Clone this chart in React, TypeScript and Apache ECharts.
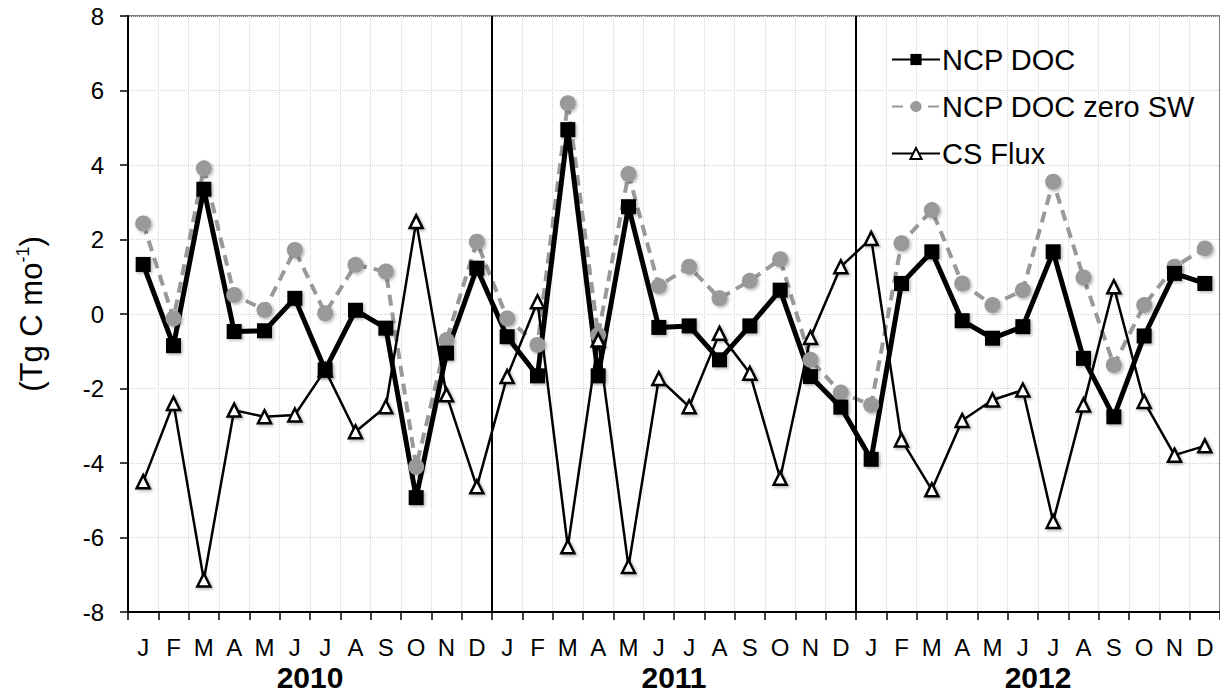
import React, { useEffect, useRef } from "react";
import * as echarts from "echarts";

const monthLetters = ["J", "F", "M", "A", "M", "J", "J", "A", "S", "O", "N", "D"];
const years = ["2010", "2011", "2012"];
const categories = years.flatMap((y) => monthLetters.map((m, i) => `${y}-${i}-${m}`));

const ncpDoc = [
  1.33, -0.85, 3.35, -0.47, -0.45, 0.42, -1.5, 0.1, -0.38, -4.93, -1.05, 1.23,
  -0.61, -1.66, 4.95, -1.66, 2.88, -0.36, -0.32, -1.23, -0.32, 0.64, -1.68, -2.5,
  -3.9, 0.82, 1.67, -0.18, -0.65, -0.34, 1.67, -1.19, -2.76, -0.59, 1.09, 0.82,
];
const ncpDocZeroSW = [
  2.43, -0.12, 3.91, 0.51, 0.11, 1.72, 0.02, 1.32, 1.14, -4.1, -0.7, 1.94,
  -0.12, -0.83, 5.66, -0.56, 3.76, 0.75, 1.27, 0.42, 0.89, 1.47, -1.23, -2.11,
  -2.44, 1.9, 2.79, 0.82, 0.24, 0.64, 3.55, 0.98, -1.37, 0.24, 1.27, 1.76,
];
const csFlux = [
  -4.5, -2.4, -7.14, -2.58, -2.76, -2.71, -1.5, -3.16, -2.49, 2.48, -2.17, -4.64,
  -1.68, 0.33, -6.25, -0.7, -6.78, -1.73, -2.49, -0.52, -1.59, -4.41, -0.63, 1.27,
  2.03, -3.38, -4.72, -2.86, -2.31, -2.04, -5.57, -2.44, 0.73, -2.35, -3.79, -3.54,
];
const yearBoundaries = [12, 24];
const yTicks = { min: -8, max: 8, interval: 2 };

const FONT = "'Liberation Sans', Arial, sans-serif";

export default function App() {
  const ref = useRef<HTMLDivElement>(null);
  useEffect(() => {
    document.body.style.margin = "0";
    const chart = echarts.init(ref.current!, null, { renderer: "svg" });
    const shadow = {
      shadowColor: "rgba(0,0,0,0.3)",
      shadowBlur: 3,
      shadowOffsetX: 1.5,
      shadowOffsetY: 1.5,
    };
    chart.setOption({
      animation: false,
      backgroundColor: "#fff",
      textStyle: { fontFamily: FONT },
      grid: {
        left: 128,
        top: 16,
        width: 1094,
        height: 596,
        show: true,
        borderColor: "#555",
        borderWidth: 1.5,
        backgroundColor: "transparent",
      },
      legend: {
        data: ["NCP DOC", "NCP DOC zero SW", "CS Flux"],
        orient: "vertical",
        left: 886,
        top: 40,
        itemWidth: 48,
        itemHeight: 14,
        itemGap: 18,
        textStyle: { fontSize: 29, color: "#000", fontFamily: FONT, lineHeight: 28, padding: [0, 0, 0, -3] },
      },
      xAxis: [
        {
          type: "category",
          data: categories,
          boundaryGap: true,
          position: "bottom",
          axisLine: { show: true, onZero: false, lineStyle: { color: "#000", width: 2 } },
          axisTick: { show: true, length: 8, interval: 0, lineStyle: { color: "#000", width: 1.5 } },
          axisLabel: {
            interval: 0,
            fontSize: 24,
            color: "#000",
            margin: 23,
            fontFamily: FONT,
            formatter: (v: string) => v.split("-")[2],
          },
          splitLine: { show: true, interval: 0, lineStyle: { color: "#d4d4d4", type: "dotted", width: 1 } },
        },
        {
          type: "category",
          data: years,
          boundaryGap: true,
          position: "bottom",
          offset: 0,
          axisLine: { show: false, onZero: false },
          axisTick: { show: false },
          splitLine: { show: false },
          axisLabel: {
            interval: 0,
            fontSize: 30,
            fontWeight: "bold",
            color: "#000",
            margin: 50,
            fontFamily: FONT,
          },
        },
        {
          type: "value",
          min: 0,
          max: 36,
          show: false,
          axisLine: { show: false, onZero: false },
          splitLine: { show: false },
        },
      ],
      yAxis: {
        type: "value",
        min: yTicks.min,
        max: yTicks.max,
        interval: yTicks.interval,
        axisLine: { show: true, onZero: false, lineStyle: { color: "#000", width: 2 } },
        axisTick: { show: true, length: 8, lineStyle: { color: "#000", width: 1.5 } },
        axisLabel: { fontSize: 24, color: "#000", margin: 24, fontFamily: FONT },
        splitLine: { show: true, lineStyle: { color: "#d4d4d4", type: "dotted", width: 1 } },
        name: "{a|(Tg C mo}{s|-1}{a|)}",
        nameLocation: "middle",
        nameGap: 80,
        nameRotate: 90,
        nameTextStyle: {
          rich: {
            a: { fontSize: 31, color: "#000", fontFamily: FONT, lineHeight: 34 },
            s: { fontSize: 18, color: "#000", fontFamily: FONT, verticalAlign: "top", lineHeight: 34, padding: [0, 0, 12, 0] },
          },
        },
      },
      series: [
        {
          name: "year lines",
          type: "line",
          xAxisIndex: 2,
          data: yearBoundaries.map((b) => [b, yTicks.min]),
          symbol: "none",
          lineStyle: { opacity: 0 },
          silent: true,
          markLine: {
            silent: true,
            symbol: "none",
            label: { show: false },
            lineStyle: { color: "#000", width: 2, type: "solid" },
            data: yearBoundaries.map((b) => ({ xAxis: b })),
          },
        },
        {
          name: "NCP DOC zero SW",
          type: "line",
          data: ncpDocZeroSW,
          symbol: "circle",
          symbolSize: 16,
          lineStyle: { color: "#999", width: 4, type: [11, 7] },
          itemStyle: { color: "#999", ...shadow },
        },
        {
          name: "CS Flux",
          type: "line",
          data: csFlux,
          symbol: "triangle",
          symbolSize: 13,
          lineStyle: { color: "#000", width: 2.5 },
          itemStyle: { color: "#fff", borderColor: "#000", borderWidth: 2.5, ...shadow },
        },
        {
          name: "NCP DOC",
          type: "line",
          data: ncpDoc,
          symbol: "rect",
          symbolSize: 15,
          lineStyle: { color: "#000", width: 5 },
          itemStyle: { color: "#000", ...shadow },
        },
      ],
    });
    return () => chart.dispose();
  }, []);
  return <div ref={ref} style={{ width: 1220, height: 696 }} />;
}
